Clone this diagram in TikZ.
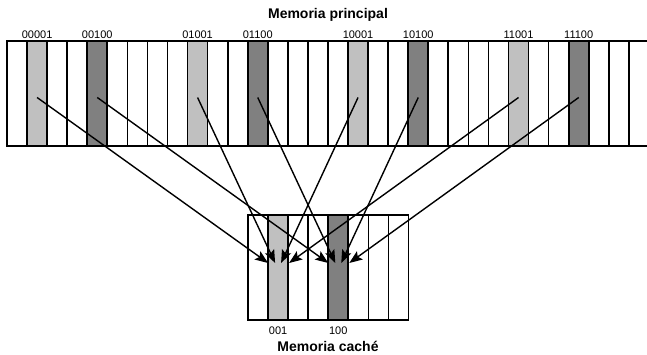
\documentclass[tikz,border=0pt]{standalone}
\usepackage{fontspec}
\setmainfont{Liberation Sans}
\usetikzlibrary{arrows.meta,positioning}
\definecolor{lightblock}{HTML}{C0C0C0}
\definecolor{darkblock}{HTML}{808080}
\tikzset{
  block/.style={draw, line width=1.7pt, inner sep=0pt, outer sep=0pt,
    minimum width=20.06pt, minimum height=105pt},
  addr/.style={font=\fontsize{11}{12}\selectfont, inner sep=2pt},
  heading/.style={font=\bfseries\fontsize{14}{16}\selectfont, anchor=base},
  link/.style={line width=1.4pt, -{Stealth[length=13pt,width=10pt,inset=2.5pt]}}
}
\begin{document}
\begin{tikzpicture}[x=1pt, y=-1pt]
  \useasboundingbox (0,0) rectangle (647,354);
  \clip (0,0) rectangle (647,354);
  \pgfmathsetmacro{\w}{20.06}
  % main memory: 32 blocks, the last one runs off the edge
  \foreach \i in {0,...,31} {
    \pgfmathtruncatemacro{\r}{mod(\i,8)}
    \ifnum\r=1 \def\shade{lightblock}\else\ifnum\r=4 \def\shade{darkblock}\else\def\shade{white}\fi\fi
    \node[block, fill=\shade] (m\i) at ({7+\w*(\i+0.5)}, 93.5) {};
  }
  \foreach \i/\t in {1/00001, 4/00100, 9/01001, 12/01100,
                     17/10001, 20/10100, 25/11001, 28/11100}
    \node[addr, above=0pt of m\i] (a\i) {\t};
  \node[heading] (principal) at (328, 18.5) {Memoria principal};

  % cache: 8 lines
  \foreach \i in {0,...,7} {
    \pgfmathtruncatemacro{\r}{\i}
    \ifnum\r=1 \def\shade{lightblock}\else\ifnum\r=4 \def\shade{darkblock}\else\def\shade{white}\fi\fi
    \node[block, fill=\shade] (c\i) at ({248+\w*(\i+0.5)}, 267.5) {};
  }
  \node[addr, below=5pt of c1] (l1) {001};
  \node[addr, below=5pt of c4] (l4) {100};
  \node[heading] (cache) at (328, 351.5) {Memoria caché};

  % every block goes to the line given by its last three bits
  \foreach \s/\d/\o in {1/1/-10, 9/1/-3, 17/1/3, 25/1/11,
                        4/4/-10, 12/4/-3, 20/4/3, 28/4/11} {
    \coordinate (from\s) at ([yshift=-4pt]m\s.center);
    \coordinate (to\s) at ([xshift=\o pt, yshift=4.5pt]c\d.center);
    \draw[link] (from\s) -- (to\s);
  }
\end{tikzpicture}
\end{document}
